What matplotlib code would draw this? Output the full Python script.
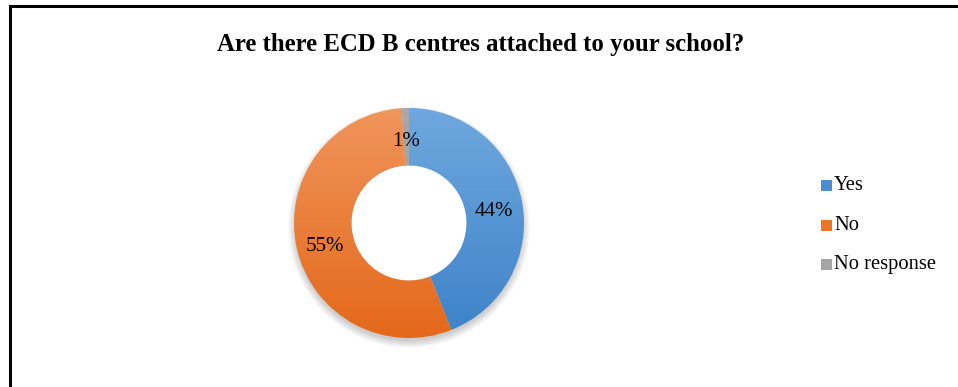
import matplotlib.pyplot as plt
import numpy as np
from matplotlib.patches import Wedge, Circle
from matplotlib.lines import Line2D
from matplotlib.colors import LinearSegmentedColormap

labels = ['Yes', 'No', 'No response']
shares = [44, 55, 1]
pct_labels = ['44%', '55%', '1%']
# top / bottom shades of each slice
top_colors = ['#6fa8de', '#f0955c', '#a8a8a8']
bottom_colors = ['#3d82c8', '#e4681a', '#9a9a9a']
legend_colors = ['#4a8dd2', '#ee7424', '#a5a5a5']

plt.rcParams['font.family'] = 'Liberation Serif'

fig = plt.figure(figsize=(9.58, 3.87), dpi=100)
W, H = 958, 387

# frame on the left and top edges
fig.add_artist(Line2D([9.5 / W, 9.5 / W], [0, 1 - 5.5 / H], color='black', lw=2.2,
                      transform=fig.transFigure, solid_capstyle='projecting'))
fig.add_artist(Line2D([9.5 / W, 1], [1 - 5.5 / H, 1 - 5.5 / H], color='black', lw=2.2,
                      transform=fig.transFigure, solid_capstyle='projecting'))

fig.text(481 / W, 1 - 44 / H, 'Are there ECD B centres attached to your school?',
         ha='center', va='center', fontsize=17.8, fontweight='bold')

# donut axes: centre (409, 223), outer radius 115 px
R = 115
cx, cy = 409, 223
ax = fig.add_axes([(cx - 130) / W, 1 - (cy + 130) / H, 260 / W, 260 / H])
ax.set_xlim(-130, 130)
ax.set_ylim(-130, 130)
ax.set_aspect('equal')
ax.axis('off')

inner = 57.5
# soft shadow under the ring
for i in range(10):
    ax.add_patch(Circle((0, -4), R + 6 - i * 0.8, color='black', alpha=0.018, lw=0, zorder=1))
ax.add_patch(Circle((0, 0), inner, color='white', lw=0, zorder=1.5))

yy = np.linspace(R, -R, 200)
angle = 90.0
for k, s in enumerate(shares):
    theta2 = angle
    theta1 = angle - s / 100 * 360
    w = Wedge((0, 0), R, theta1, theta2, width=R - inner, facecolor='none', lw=0)
    ax.add_patch(w)
    cmap = LinearSegmentedColormap.from_list('g%d' % k, [top_colors[k], bottom_colors[k]])
    im = ax.imshow(yy[::-1].reshape(-1, 1) * -1, cmap=cmap, extent=[-R, R, -R, R],
                   aspect='auto', origin='lower', zorder=2)
    im.set_clip_path(w)
    mid = np.deg2rad((theta1 + theta2) / 2)
    rl = (R + inner) / 2
    ax.text(rl * np.cos(mid), rl * np.sin(mid) - 5, pct_labels[k],
            ha='center', va='center', fontsize=15, zorder=3)
    angle = theta1

ax.set_xlim(-130, 130)
ax.set_ylim(-130, 130)

# legend
leg_y = [185, 225, 264]
for k in range(3):
    fig.patches.append(plt.Rectangle((821 / W, 1 - (leg_y[k] + 5.5) / H), 11 / W, 11 / H,
                                     transform=fig.transFigure, facecolor=legend_colors[k],
                                     edgecolor='none'))
    fig.text(834 / W, 1 - leg_y[k] / H, labels[k], ha='left', va='center', fontsize=14.8)

fig.savefig('out.png', dpi=100)
